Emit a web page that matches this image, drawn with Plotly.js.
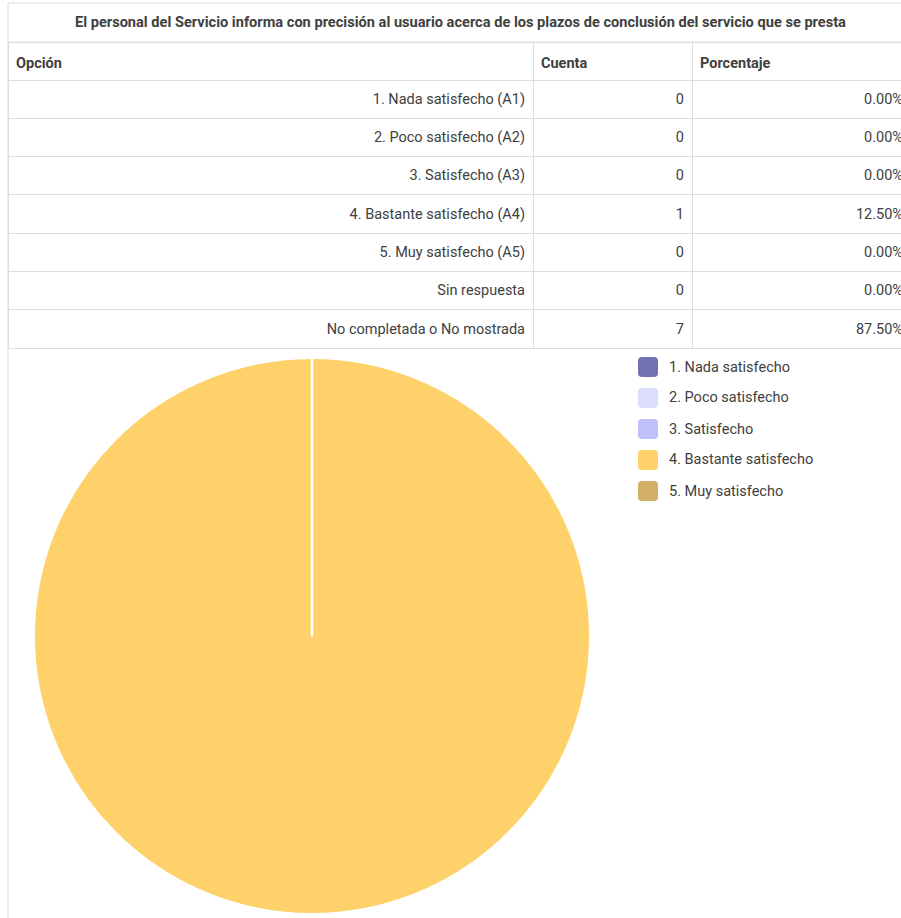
<!DOCTYPE html>
<html><head><meta charset="utf-8">
<script src="https://cdn.plot.ly/plotly-3.0.1.min.js"></script>
<style>html,body{margin:0;padding:0;overflow:hidden;background:#fff}#chart{width:920px;height:918px}</style>
</head><body><div id="chart"></div><script>
const chartTitle = "El personal del Servicio informa con precisión al usuario acerca de los plazos de conclusión del servicio que se presta";
const columnHeaders = ["Opción", "Cuenta", "Porcentaje"];
const options = ["1. Nada satisfecho (A1)", "2. Poco satisfecho (A2)", "3. Satisfecho (A3)", "4. Bastante satisfecho (A4)", "5. Muy satisfecho (A5)", "Sin respuesta", "No completada o No mostrada"];
const counts = [0, 0, 0, 1, 0, 0, 7];
const percentages = [0, 0, 0, 12.5, 0, 0, 87.5];
const pieLabels = ["1. Nada satisfecho", "2. Poco satisfecho", "3. Satisfecho", "4. Bastante satisfecho", "5. Muy satisfecho"];
const pieValues = [0, 0, 0, 1, 0];
const pieColors = ["#7272b2", "#dcdcfc", "#bfbffc", "#ffd16a", "#d3b067"];

const W = 920, H = 918;
const px = x => x / W;
const py = y => 1 - y / H;
const FONT = "Roboto, 'Open Sans', sans-serif";
const FS = 14.5;
const TXT = "#404040";
const LINE = "#dddddd";
const CLEAR = "rgba(0,0,0,0)";

const pctText = percentages.map(p => p.toFixed(2) + "%");
const headerVals = columnHeaders.map(h => "<b>" + h + "</b>");
const cellVals = [options, counts, pctText];

function makeTable(top, withGrid) {
  const blank = arr => arr.map(() => "");
  return {
    type: "table",
    domain: {x: [px(8), px(911)], y: [py(top + 312), py(top)]},
    columnwidth: [525, 159, 219],
    header: {
      values: withGrid ? blank(headerVals) : headerVals, align: "left", height: 38,
      line: {color: withGrid ? LINE : CLEAR, width: 1},
      fill: {color: withGrid ? "#ffffff" : CLEAR},
      font: {family: FONT, size: FS, color: TXT}
    },
    cells: {
      values: withGrid ? cellVals.map(blank) : cellVals, align: ["right", "right", "right"], height: 38.3,
      line: {color: withGrid ? LINE : CLEAR, width: 1},
      fill: {color: withGrid ? "#ffffff" : CLEAR},
      font: {family: FONT, size: FS, color: TXT}
    }
  };
}
// grid table, plus a text layer nudged down so the text sits centred in each row
const gridTable = makeTable(42, true);
const textTable = makeTable(47, false);

const pieDomain = {x: [px(34), px(590)], y: [py(914), py(358)]};
const pieTrace = {
  type: "pie", labels: pieLabels, values: pieValues,
  marker: {colors: pieColors, line: {color: "#ffffff", width: 2}},
  sort: false, direction: "clockwise", rotation: 0,
  textinfo: "none", hoverinfo: "label+value+percent", showlegend: false,
  domain: pieDomain
};

const shapes = [
  {type: "line", xref: "paper", yref: "paper", x0: px(8), x1: px(8), y0: py(3), y1: py(918), line: {color: LINE, width: 1}},
  {type: "line", xref: "paper", yref: "paper", x0: px(8), x1: 1, y0: py(3), y1: py(3), line: {color: LINE, width: 1}},
  {type: "line", xref: "paper", yref: "paper", x0: px(8), x1: 1, y0: py(42), y1: py(42), line: {color: LINE, width: 1}},
  // white border line of the single full slice (centre to top)
  {type: "line", xref: "paper", yref: "paper",
   x0: (pieDomain.x[0] + pieDomain.x[1]) / 2, x1: (pieDomain.x[0] + pieDomain.x[1]) / 2,
   y0: (pieDomain.y[0] + pieDomain.y[1]) / 2, y1: pieDomain.y[1], line: {color: "#ffffff", width: 2.5}}
];
const annotations = [
  {xref: "paper", yref: "paper", x: px(460), y: py(22), xanchor: "center", yanchor: "middle",
   text: "<b>" + chartTitle + "</b>", showarrow: false, font: {family: FONT, size: 14.6, color: TXT}}
];
pieLabels.forEach((lab, i) => {
  const cy = 367 + 31 * i;
  shapes.push({type: "path", xref: "paper", yref: "paper", xsizemode: "pixel", ysizemode: "pixel",
    xanchor: px(648), yanchor: py(cy),
    path: "M -6,-10 L 6,-10 Q 10,-10 10,-6 L 10,6 Q 10,10 6,10 L -6,10 Q -10,10 -10,6 L -10,-6 Q -10,-10 -6,-10 Z",
    fillcolor: pieColors[i], line: {width: 0}});
  annotations.push({xref: "paper", yref: "paper", x: px(667), y: py(cy), xanchor: "left", yanchor: "middle",
    text: lab, showarrow: false, font: {family: FONT, size: FS, color: TXT}});
});

Plotly.newPlot("chart", [gridTable, textTable, pieTrace], {
  width: W, height: H, margin: {l: 0, r: 0, t: 0, b: 0},
  paper_bgcolor: "#ffffff", plot_bgcolor: "#ffffff",
  shapes: shapes, annotations: annotations, showlegend: false
}, {displayModeBar: false, staticPlot: true});
</script></body></html>
